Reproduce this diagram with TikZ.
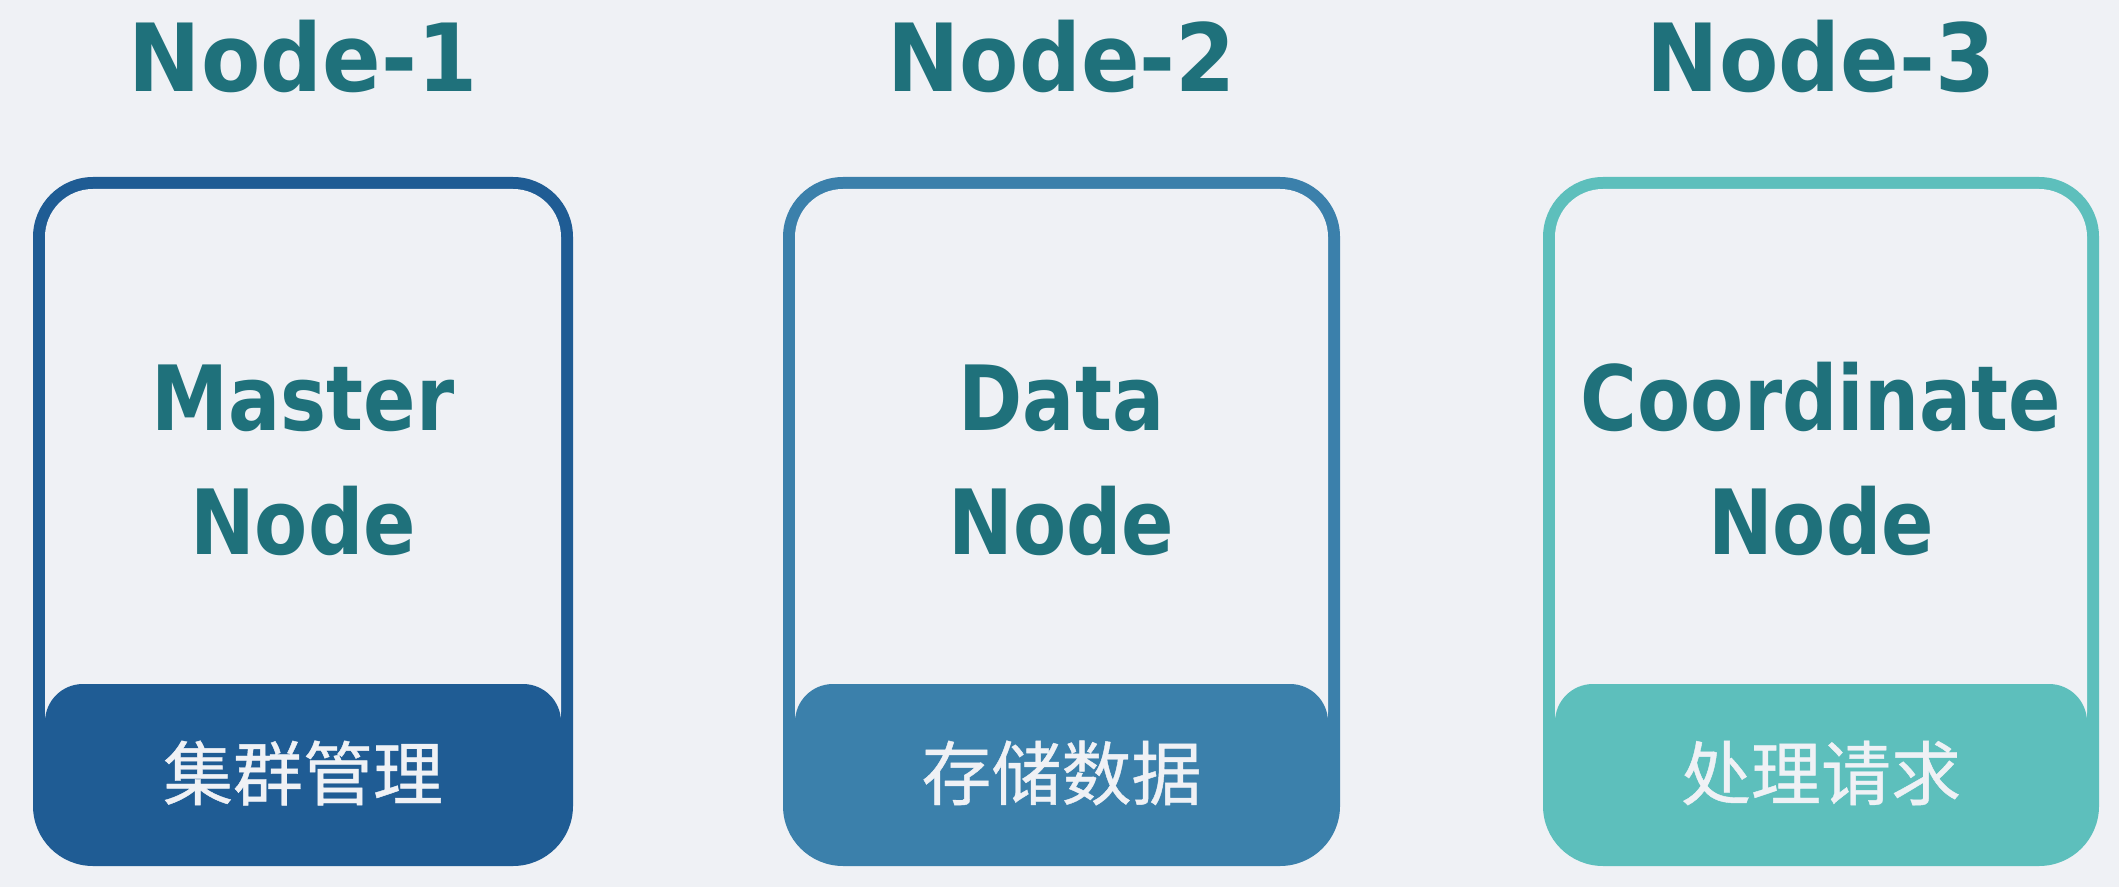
\documentclass[tikz,border=0pt]{standalone}
\usepackage{fontspec}
\newfontfamily\headfont{DejaVu Sans}[FakeStretch=0.92]
\newfontfamily\bodyfont{DejaVu Sans}[FakeStretch=0.86]
\newfontfamily\cjkfont{Noto Sans CJK SC}[FakeBold=0.6]
\definecolor{bgc}{HTML}{EFF1F5}
\definecolor{titlec}{HTML}{1F717B}
\definecolor{cardone}{HTML}{1F5C94}
\definecolor{cardtwo}{HTML}{3B80AB}
\definecolor{cardthree}{HTML}{5DBFBC}

\begin{document}
\begin{tikzpicture}[x=0.5pt,y=-0.5pt,
    heading/.style={text=titlec, anchor=base, inner sep=0pt,
      font=\headfont\bfseries\fontsize{47}{56}\selectfont},
    rolename/.style={text=titlec, anchor=base, inner sep=0pt,
      font=\bodyfont\bfseries\fontsize{45}{54}\selectfont},
    tasklabel/.style={text=bgc, inner sep=0pt,
      font=\cjkfont\fontsize{35}{40}\selectfont},
  ]
  % background, fixes the size
  \fill[bgc] (0,0) rectangle (2119,887);
  \foreach \l/\r/\c/\n/\a/\b/\z in {
      33/573/cardone/1/Master/Node/集群管理,
      783/1340/cardtwo/2/Data/Node/存储数据,
      1543/2099/cardthree/3/Coordinate/Node/处理请求}{
    % card frame, inner panel, bottom band
    \fill[\c, rounded corners=30pt] (\l,177) rectangle (\r,866);
    \fill[bgc, rounded corners=24pt] (\l+12,189) rectangle (\r-12,760);
    \fill[\c, rounded corners=19pt] (\l+12,684) rectangle (\r-12,820);
    \node[heading] (head\n) at ({(\l+\r)/2},92) {Node-\n};
    \node[rolename] (role\n) at ({(\l+\r)/2},430) {\a};
    \node[rolename] (kind\n) at ({(\l+\r)/2},554) {\b};
    \node[tasklabel] (task\n) at ({(\l+\r)/2},773) {\z};
  }
\end{tikzpicture}
\end{document}
